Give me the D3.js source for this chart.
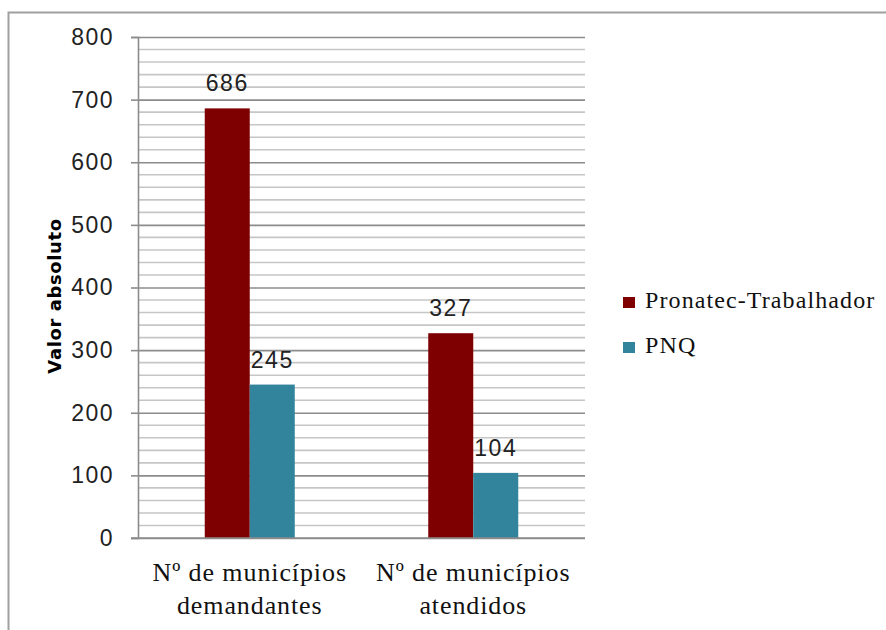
<!DOCTYPE html>
<html>
<head>
<meta charset="utf-8">
<script src="https://cdn.jsdelivr.net/npm/d3@7"></script>
<style>
  body { margin: 0; background: #fff; }
  svg { display: block; }
</style>
</head>
<body>
<svg id="chart" width="886" height="630"></svg>
<script>
var categories = [["Nº de municípios", "demandantes"], ["Nº de municípios", "atendidos"]];
var seriesNames = ["Pronatec-Trabalhador", "PNQ"];
var pronatec = [686, 327];
var pnq = [245, 104];
var yTicks = [0, 100, 200, 300, 400, 500, 600, 700, 800];
var colors = ["#7f0000", "#31849b"];

var svg = d3.select("#chart");
var plot = {left: 138, right: 585, top: 37, bottom: 538};

// outer frame
svg.append("rect")
  .attr("x", 8.5).attr("y", 12.5)
  .attr("width", 900).attr("height", 700)
  .attr("fill", "#fff")
  .attr("stroke", "#a0a0a0")
  .attr("stroke-width", 2);

var y = d3.scaleLinear().domain([0, 800]).range([plot.bottom, plot.top]);
var x = d3.scaleBand().domain(d3.range(categories.length)).range([plot.left, plot.right]);
var bw = x.bandwidth();
var x1 = d3.scaleBand().domain(seriesNames).range([bw / 2 - 45, bw / 2 + 45]);

// minor gridlines
var minor = d3.range(20, 800, 20).filter(d => d % 100 != 0);
svg.append("g").selectAll("line").data(minor).join("line")
  .attr("x1", plot.left).attr("x2", plot.right)
  .attr("y1", d => y(d)).attr("y2", d => y(d))
  .attr("stroke", "#c6c6c6").attr("stroke-width", 1.6);

// y axis with major gridlines
var yAxis = svg.append("g")
  .attr("transform", `translate(${plot.left},0)`)
  .call(d3.axisLeft(y).tickValues(yTicks).tickSize(7).tickPadding(17).tickFormat(d3.format("d")));
yAxis.select(".domain").attr("stroke", "#8c8c8c").attr("stroke-width", 1.6);
yAxis.selectAll(".tick line").attr("stroke", "#8c8c8c").attr("stroke-width", 1.6);
yAxis.selectAll(".tick text")
  .attr("font-family", "Liberation Sans Narrow, Arial Narrow, Liberation Sans, sans-serif")
  .attr("font-size", 23).attr("letter-spacing", 1.5).attr("fill", "#222");
yAxis.selectAll(".tick").append("line")
  .attr("x1", 0).attr("x2", plot.right - plot.left)
  .attr("stroke", "#8c8c8c").attr("stroke-width", 1.6);

// y axis title
svg.append("text")
  .attr("transform", "translate(61,296) rotate(-90)")
  .attr("text-anchor", "middle")
  .attr("font-family", "DejaVu Sans, sans-serif")
  .attr("font-weight", "bold")
  .attr("font-size", 18)
  .attr("letter-spacing", 0.6)
  .text("Valor absoluto");

// bars
var rows = categories.map((c, i) => [pronatec[i], pnq[i]]);
var groups = svg.append("g").selectAll("g").data(rows).join("g")
  .attr("transform", (d, i) => `translate(${x(i)},0)`);
groups.selectAll("rect").data(d => d.map((v, j) => ({name: seriesNames[j], value: v, j: j}))).join("rect")
  .attr("x", d => x1(d.name))
  .attr("width", x1.bandwidth())
  .attr("y", d => y(d.value))
  .attr("height", d => y(0) - y(d.value))
  .attr("fill", d => colors[d.j]);
groups.selectAll("text.val").data(d => d.map((v, j) => ({name: seriesNames[j], value: v}))).join("text")
  .attr("class", "val")
  .attr("x", d => x1(d.name) + x1.bandwidth() / 2)
  .attr("y", d => y(d.value) - 17)
  .attr("text-anchor", "middle")
  .attr("font-family", "Liberation Sans Narrow, Arial Narrow, Liberation Sans, sans-serif")
  .attr("font-size", 23).attr("letter-spacing", 1.5).attr("fill", "#222")
  .text(d => d.value);

// bottom axis line
svg.append("line")
  .attr("x1", plot.left - 7).attr("x2", plot.right)
  .attr("y1", y(0)).attr("y2", y(0))
  .attr("stroke", "#8c8c8c").attr("stroke-width", 1.6);

// category labels
var cat = svg.append("g").selectAll("text").data(categories).join("text")
  .attr("text-anchor", "middle")
  .attr("font-family", "Liberation Serif, Times New Roman, serif")
  .attr("font-size", 26).attr("letter-spacing", 0.9).attr("fill", "#111");
cat.selectAll("tspan").data((d, i) => d.map(s => ({s: s, i: i}))).join("tspan")
  .attr("x", d => x(d.i) + bw / 2)
  .attr("y", (d, k) => 581 + k * 33)
  .text(d => d.s);

// legend
var leg = svg.append("g").selectAll("g").data(seriesNames).join("g")
  .attr("transform", (d, i) => `translate(623,${308 + i * 45})`);
leg.append("rect")
  .attr("x", 0).attr("y", -11).attr("width", 12).attr("height", 11)
  .attr("fill", (d, i) => colors[i]);
leg.append("text")
  .attr("x", 22).attr("y", 0)
  .attr("font-family", "Liberation Serif, Times New Roman, serif")
  .attr("font-size", 24).attr("letter-spacing", 1.1).attr("fill", "#111")
  .text(d => d);
</script>
</body>
</html>
